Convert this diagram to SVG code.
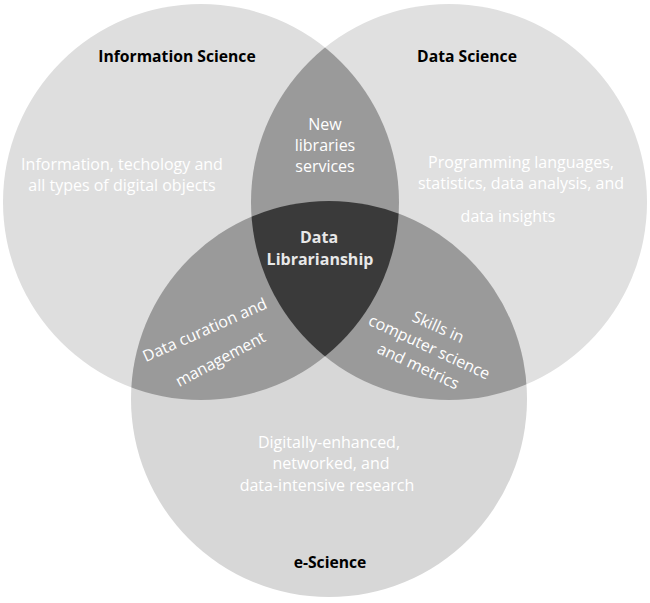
<svg xmlns="http://www.w3.org/2000/svg" width="650" height="603" viewBox="0 0 650 603">
<style>
.w{font-family:"Open Sans","Liberation Sans",sans-serif;font-size:16px;fill:#ffffff;text-anchor:middle}
.h{font-family:"Open Sans","Liberation Sans",sans-serif;font-size:15.7px;font-weight:bold;fill:#000000;text-anchor:middle}
.hw{font-family:"Open Sans","Liberation Sans",sans-serif;font-size:16px;font-weight:bold;fill:#e8e8e8;text-anchor:middle}
.two{fill:#9a9a9a}
</style>
<defs>
<clipPath id="k1"><circle cx="201" cy="202" r="198"/></clipPath>
<clipPath id="k2"><circle cx="449" cy="202" r="198"/></clipPath>
</defs>
<rect width="650" height="603" fill="#ffffff"/>
<g id="information-science">
<circle cx="201" cy="202" r="198" fill="#dedede"/>
</g>
<g id="data-science">
<circle cx="449" cy="202" r="198" fill="#e0e0e0"/>
</g>
<g id="e-science">
<circle cx="329" cy="399" r="198" fill="#d7d7d7"/>
</g>
<g id="overlaps">
<circle class="two" cx="449" cy="202" r="198" clip-path="url(#k1)"/>
<circle class="two" cx="329" cy="399" r="198" clip-path="url(#k1)"/>
<circle class="two" cx="329" cy="399" r="198" clip-path="url(#k2)"/>
<g clip-path="url(#k1)"><circle cx="329" cy="399" r="198" fill="#3a3a3a" clip-path="url(#k2)"/></g>
</g>
<g id="labels-information-science">
<text class="h" x="177" y="62">Information Science</text>
<text class="w" x="122" y="170">Information, techology and</text>
<text class="w" x="122" y="191">all types of digital objects</text>
</g>
<g id="labels-data-science">
<text class="h" x="467" y="62">Data Science</text>
<text class="w" x="521" y="168">Programming languages,</text>
<text class="w" x="521" y="189">statistics, data analysis, and</text>
<text class="w" x="508" y="222">data insights</text>
</g>
<g id="labels-e-science">
<text class="h" x="330" y="568">e-Science</text>
<text class="w" x="329" y="448">Digitally-enhanced,</text>
<text class="w" x="331" y="469">networked, and</text>
<text class="w" x="327" y="491">data-intensive research</text>
</g>
<g id="new-libraries-services">
<text class="w" x="325" y="130">New</text>
<text class="w" x="325" y="151">libraries</text>
<text class="w" x="325" y="172">services</text>
</g>
<g id="data-librarianship">
<text class="hw" x="319" y="243">Data</text>
<text class="hw" x="320" y="265">Librarianship</text>
</g>
<g id="data-curation">
<text class="w" transform="translate(207,335) rotate(-24)">Data curation and</text>
<text class="w" transform="translate(223,364) rotate(-28)">management</text>
</g>
<g id="skills">
<text class="w" transform="translate(436,332) rotate(24)">Skills in</text>
<text class="w" transform="translate(427,352) rotate(25)">computer science</text>
<text class="w" transform="translate(416,371) rotate(25)">and metrics</text>
</g>
</svg>
